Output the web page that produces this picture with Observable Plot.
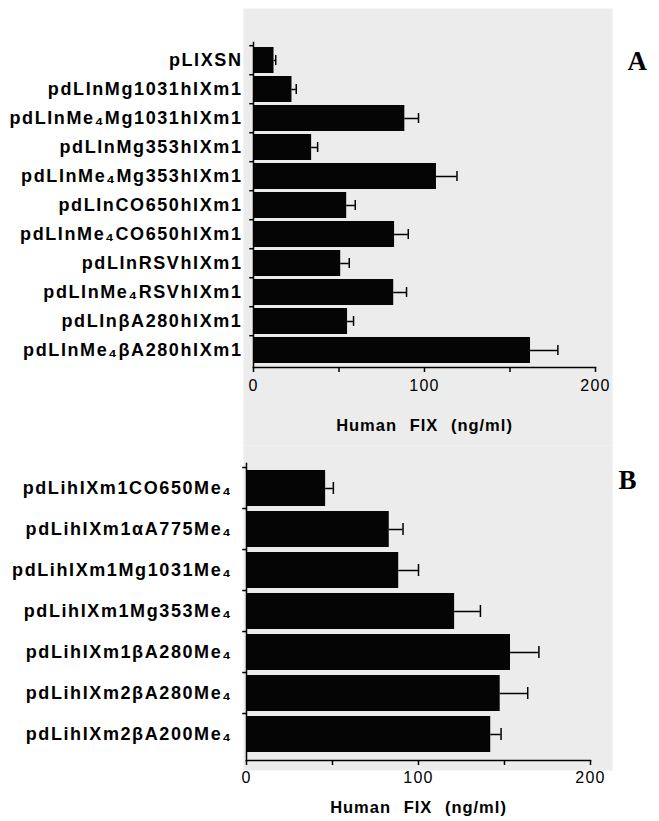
<!DOCTYPE html>
<html>
<head>
<meta charset="utf-8">
<script src="https://cdn.jsdelivr.net/npm/d3@7"></script>
<script src="https://cdn.jsdelivr.net/npm/@observablehq/plot@0.6"></script>
<style>
  html, body { margin: 0; padding: 0; background: #ffffff; }
  #wrap { position: relative; width: 659px; height: 821px; overflow: hidden; background: #ffffff; }
  #wrap svg { position: absolute; left: 0; }
</style>
</head>
<body>
<div id="wrap"></div>
<script>
// ---- Panel A data ----
const namesA = [
  "pLIXSN",
  "pdLInMg1031hIXm1",
  "pdLInMe₄Mg1031hIXm1",
  "pdLInMg353hIXm1",
  "pdLInMe₄Mg353hIXm1",
  "pdLInCO650hIXm1",
  "pdLInMe₄CO650hIXm1",
  "pdLInRSVhIXm1",
  "pdLInMe₄RSVhIXm1",
  "pdLInβA280hIXm1",
  "pdLInMe₄βA280hIXm1"
];
const valuesA = [12, 22.5, 88.5, 34, 107, 54.5, 82.5, 51, 82, 55, 162];
const errorsA = [1, 2.5, 8, 3.5, 12, 5, 8, 5, 7.5, 3.5, 16];

// ---- Panel B data ----
const namesB = [
  "pdLihIXm1CO650Me₄",
  "pdLihIXm1αA775Me₄",
  "pdLihIXm1Mg1031Me₄",
  "pdLihIXm1Mg353Me₄",
  "pdLihIXm1βA280Me₄",
  "pdLihIXm2βA280Me₄",
  "pdLihIXm2βA200Me₄"
];
const valuesB = [46, 83, 88.5, 121, 153.5, 147.5, 142];
const errorsB = [4.5, 8, 11.5, 15, 16.5, 16, 6];

// ---- axis ----
const xDomain = [0, 200];
const minorTicks = [0, 50, 100, 150, 200];
const labeledTicks = [0, 100, 200];
const xTitle = "Human FIX (ng/ml)";
const SANS = "'Liberation Sans', Arial, Helvetica, sans-serif";
const SERIF = "'Liberation Serif', 'Times New Roman', serif";
const GREY = "#ececec";

function makePanel(cfg) {
  const data = cfg.names.map((n, i) => ({name: n, value: cfg.values[i], err: cfg.errors[i]}));
  const n = cfg.names.length;
  const pi = cfg.paddingInner, po = cfg.paddingOuter;
  const innerH = cfg.height - cfg.marginTop - cfg.marginBottom;
  const step = innerH / (n - pi + 2 * po);
  const svg = Plot.plot({
    width: 659,
    height: cfg.height,
    marginTop: cfg.marginTop,
    marginBottom: cfg.marginBottom,
    marginLeft: cfg.marginLeft,
    marginRight: cfg.marginRight,
    style: {background: "transparent", fontFamily: SANS, color: "black", overflow: "visible"},
    x: {domain: xDomain, axis: null, label: null},
    y: {domain: cfg.names, paddingInner: pi, paddingOuter: po, axis: null, label: null},
    marks: [
      Plot.frame({fill: GREY, stroke: "none", insetLeft: cfg.grey[0], insetRight: cfg.grey[1], insetTop: cfg.grey[2], insetBottom: cfg.grey[3]}),
      Plot.barX(data, {y: "name", x: "value", fill: "#050505"}),
      Plot.ruleY(data, {y: "name", x1: "value", x2: d => d.value + d.err, stroke: "black", strokeWidth: 1.5}),
      Plot.tickX(data, {y: "name", x: d => d.value + d.err, stroke: "black", strokeWidth: 1.5, insetTop: cfg.capInset, insetBottom: cfg.capInset}),
      Plot.ruleY(data, {y: "name", x1: -2.2, x2: 0, dy: -step / 2, stroke: "black", strokeWidth: 1.5}),
      Plot.frame({anchor: "left", stroke: "black", strokeWidth: 1.5}),
      Plot.frame({anchor: "bottom", stroke: "black", strokeWidth: 1.5}),
      Plot.axisX({ticks: minorTicks, tickSize: 5, tickFormat: () => "", strokeWidth: 1.5, label: null}),
      Plot.axisX({ticks: labeledTicks, tickSize: 0, tickPadding: cfg.tickPadX, fontSize: 16, tickFormat: d => String(d), label: null}),
      Plot.axisY({tickSize: 0, tickPadding: cfg.tickPadY, fontSize: 18, fontWeight: "bold", label: null}),
      Plot.text([xTitle], {frameAnchor: "bottom", dy: cfg.titleDy, fontSize: 16.5, fontWeight: "bold", lineAnchor: "middle"}),
      Plot.text([cfg.letter], {frameAnchor: "top-right", dx: cfg.letterDx, dy: cfg.letterDy, textAnchor: "start", lineAnchor: "bottom", fontFamily: SERIF, fontSize: 27, fontWeight: "bold"})
    ]
  });
  const s = d3.select(svg);
  s.selectAll("g[aria-label='y-axis tick label'] text").style("letter-spacing", "1.6px");
  s.selectAll("g[aria-label='x-axis tick label'] text").style("letter-spacing", "1.2px");
  s.selectAll("g[aria-label='text'] text").filter(function() { return this.textContent === xTitle; })
    .style("letter-spacing", "1px").style("word-spacing", "7px");
  return svg;
}

const wrap = document.getElementById("wrap");

const svgA = makePanel({
  names: namesA, values: valuesA, errors: errorsA,
  height: 445, marginTop: 42, marginBottom: 78, marginLeft: 253, marginRight: 64,
  paddingInner: 0.12, paddingOuter: 0.05,
  grey: [-10, -17, -34, -78],
  capInset: 8, tickPadX: 12, tickPadY: 11, titleDy: 58,
  letter: "A", letterDx: 32, letterDy: 27
});
svgA.style.top = "0px";
wrap.appendChild(svgA);

const svgB = makePanel({
  names: namesB, values: valuesB, errors: errorsB,
  height: 376, marginTop: 18, marginBottom: 61, marginLeft: 246, marginRight: 69,
  paddingInner: 0.12, paddingOuter: 0.1,
  grey: [-3, -22, -18, -10],
  capInset: 12, tickPadX: 11, tickPadY: 14, titleDy: 47,
  letter: "B", letterDx: 28, letterDy: 25
});
svgB.style.top = "445px";
wrap.appendChild(svgB);
</script>
</body>
</html>
